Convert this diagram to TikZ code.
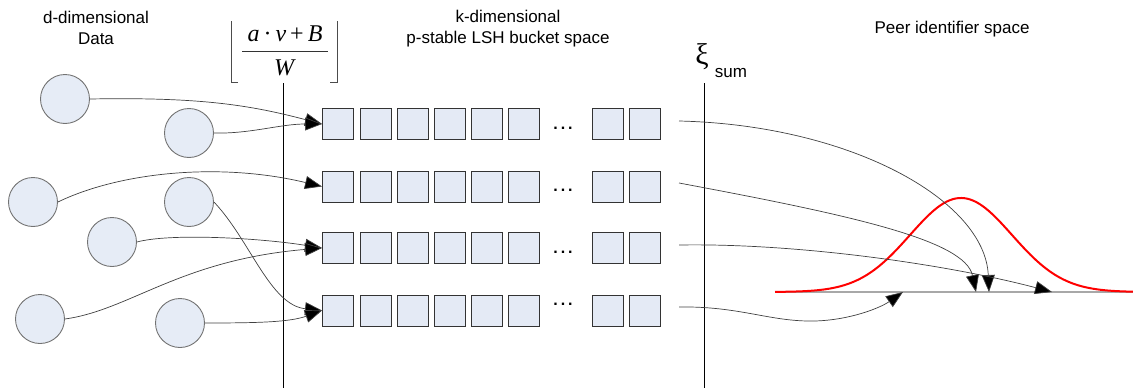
\documentclass[tikz,border=0pt]{standalone}
\usepackage{fontspec}
\setmainfont{Liberation Sans}
\newfontfamily\tms{Liberation Serif}
\usetikzlibrary{arrows.meta}
\definecolor{cfill}{HTML}{E6ECF6}
\definecolor{bfill}{HTML}{E4EAF5}
\definecolor{conn}{HTML}{404040}
\definecolor{axisgray}{HTML}{A8A8A8}
\definecolor{redc}{HTML}{FF0000}
\begin{document}
\begin{tikzpicture}[x=1pt,y=-1pt,
  datum/.style={circle,draw=black!55,line width=0.9pt,fill=cfill,minimum size=49pt,inner sep=0pt},
  bucket/.style={rectangle,draw=black!80,line width=1pt,fill=bfill,minimum width=31pt,minimum height=31pt,inner sep=0pt},
  lbl/.style={font=\fontsize{17}{21}\selectfont,align=center,inner sep=0pt},
  dots/.style={font=\fontsize{16}{16}\selectfont\bfseries,inner sep=0pt},
  conn/.style={draw=conn,line width=0.7pt},
  arr/.style={conn,-{Triangle[length=17pt,width=13pt,fill=black]}},
  rule/.style={draw=black,line width=0.9pt},
  mth/.style={font=\fontsize{24}{28}\selectfont\tms,inner sep=0pt}]
\useasboundingbox (0,0) rectangle (1133,388);

% labels
\node[lbl] (dlab) at (96,28) {d-dimensional\\Data};
\node[lbl] (klab) at (508,29) {k-dimensional\\p-stable LSH bucket space};
\node[lbl] (plab) at (952,29) {Peer identifier space};

% formula
\node[mth] (num) at (285,34) {\textit{a}\,·\,\textit{v}\,+\,\textit{B}};
\node[mth] (den) at (285,68) {\textit{W}};
\draw[line width=1pt,black!80] (242,51) -- (328,51);
\draw[rule,black!70] (238,82) -- (231,82) -- (231,21);
\draw[rule,black!70] (330,82) -- (337,82) -- (337,21);

% xi sum
\node[inner sep=0pt,font=\fontsize{30}{30}\selectfont\tms] (xi) at (702,57) {ξ};
\node[lbl] (sum) at (731,73) {sum};

% vertical rules
\coordinate (v1t) at (283,83); \coordinate (v1b) at (283,388);
\coordinate (v2t) at (704,83); \coordinate (v2b) at (704,388);
\draw[rule] (v1t) -- (v1b);
\draw[rule] (v2t) -- (v2b);

% data circles
\node[datum] (c1) at (65,99) {};
\node[datum] (c2) at (189,133) {};
\node[datum] (c3) at (33,202) {};
\node[datum] (c4) at (189,202) {};
\node[datum] (c5) at (112,242) {};
\node[datum] (c6) at (40,319) {};
\node[datum] (c7) at (180,323) {};

% buckets
\foreach \r/\y in {1/124,2/186.5,3/248,4/310.5}{
  \foreach \k/\x in {1/338,2/375.5,3/412.5,4/449.5,5/486.5,6/524,7/607.5,8/644.5}{
    \node[bucket] (b\r\k) at (\x,\y) {};
  }
}
\node[dots] (d1) at (563,128) {.\hspace{3pt}.\hspace{3pt}.};
\node[dots] (d2) at (563,190) {.\hspace{3pt}.\hspace{3pt}.};
\node[dots] (d3) at (563,252) {.\hspace{3pt}.\hspace{3pt}.};
\node[dots] (d4) at (563,304) {.\hspace{3pt}.\hspace{3pt}.};

% left connectors
\draw[arr] (c1.east) .. controls (200,97) and (250,105) .. (b11.west);
\draw[arr] (c2.east) .. controls (250,134) and (280,124) .. (b11.west);
\draw[arr] (c3.east) .. controls (120,172) and (220,162) .. (b21.west);
\draw[arr] (c4.east) .. controls (250,240) and (270,305) .. (b41.west);
\draw[arr] (c5.east) .. controls (170,233) and (260,238) .. (b31.west);
\draw[arr] (c6.east) .. controls (130,310) and (180,260) .. (b31.west);
\draw[arr] (c7.east) .. controls (260,323) and (290,322) .. (b41.west);

% peer identifier space
\coordinate (ax0) at (775,292); \coordinate (ax1) at (1133,292);
\draw[axisgray,line width=1.6pt] (ax0) -- (ax1);
\draw[redc,line width=2pt,smooth,samples=120,domain=775:1133]
  plot (\x,{292-94*exp(-((\x-961)/51)^2/2)});

\coordinate (s1) at (679,121);
\coordinate (s2) at (679,183);
\coordinate (s3) at (679,245);
\coordinate (s4) at (679,307);
\coordinate (t1) at (989,292);
\coordinate (t2) at (976,292);
\coordinate (t3) at (1052,292);
\coordinate (t4) at (903,292);
\draw[arr] (s1) .. controls (850,125) and (985,200) .. (t1);
\draw[arr] (s2) .. controls (850,215) and (965,240) .. (t2);
\draw[arr] (s3) .. controls (800,243) and (950,265) .. (t3);
\draw[arr] (s4) .. controls (740,306) and (770,322) .. (815,321) .. controls (850,320) and (880,308) .. (t4);
\end{tikzpicture}
\end{document}
